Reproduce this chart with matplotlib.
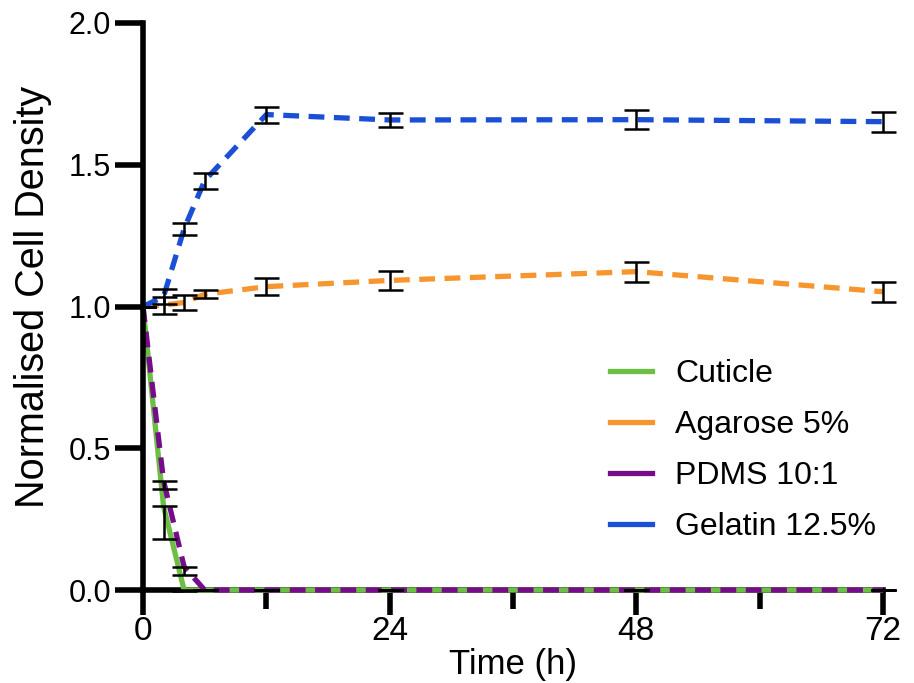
import matplotlib
matplotlib.use("Agg")
import matplotlib.pyplot as plt
from matplotlib.lines import Line2D
from matplotlib.ticker import FixedLocator
import numpy as np

plt.rcParams['font.family'] = ['Liberation Sans', 'DejaVu Sans']

time_h = [0, 2, 4, 6, 12, 24, 48, 72]

cuticle = [1.0, 0.295, 0.0, 0.0, 0.0, 0.0, 0.0, 0.0]
cuticle_err_lo = [0.0, 0.115, 0.005, 0.0, 0.0, 0.0, 0.0, 0.0]
cuticle_err_hi = [0.0, 0.0, 0.0, 0.0, 0.0, 0.0, 0.0, 0.0]

agarose = [1.0, 1.005, 1.014, 1.043, 1.070, 1.092, 1.123, 1.052]
agarose_err = [0.0, 0.03, 0.026, 0.014, 0.03, 0.034, 0.035, 0.036]

pdms = [1.0, 0.385, 0.082, 0.0, 0.0, 0.0, 0.0, 0.0]
pdms_err_lo = [0.0, 0.03, 0.03, 0.0, 0.0, 0.0, 0.0, 0.0]
pdms_err_hi = [0.0, 0.0, 0.0, 0.0, 0.0, 0.0, 0.0, 0.0]

gelatin = [1.0, 1.035, 1.274, 1.444, 1.677, 1.658, 1.659, 1.652]
gelatin_err = [0.0, 0.025, 0.022, 0.028, 0.028, 0.026, 0.034, 0.035]

labels = ["Cuticle", "Agarose 5%", "PDMS 10:1", "Gelatin 12.5%"]
colors = ["#6CBE45", "#F7962F", "#760C8A", "#1A4FD6"]

x_major = [0, 24, 48, 72]
x_minor = [12, 36, 60]
y_ticks = [0.0, 0.5, 1.0, 1.5, 2.0]

fig = plt.figure(figsize=(9.14, 6.83), dpi=100)
ax = fig.add_axes([143/914, 1 - 590/683, (883 - 143)/914, (590 - 23)/683])

lw = 3.8
dash = (3.0, 1.8)
series = [
    (cuticle, (cuticle_err_lo, cuticle_err_hi), '-', colors[0]),
    (agarose, (agarose_err, agarose_err), '--', colors[1]),
    (pdms, (pdms_err_lo, pdms_err_hi), '--', colors[2]),
    (gelatin, (gelatin_err, gelatin_err), '--', colors[3]),
]
for i, (vals, (lo, hi), ls, c) in enumerate(series):
    line, = ax.plot(time_h, vals, ls, color=c, lw=lw, zorder=3 + i,
                    solid_capstyle='butt', dash_capstyle='butt', clip_on=False)
    if ls == '--':
        line.set_dashes(dash)
for i, (vals, (lo, hi), ls, c) in enumerate(series):
    eb = ax.errorbar(time_h, vals, yerr=[lo, hi], fmt='none', ecolor='black',
                     elinewidth=1.8, capsize=9, capthick=1.8, zorder=10)
    for art in eb.get_children():
        art.set_clip_on(False)

ax.set_xlim(0, 72)
ax.set_ylim(0, 2.0)
ax.xaxis.set_major_locator(FixedLocator(x_major))
ax.xaxis.set_minor_locator(FixedLocator(x_minor))
ax.yaxis.set_major_locator(FixedLocator(y_ticks))
ax.set_xticklabels([str(v) for v in x_major])
ax.set_yticklabels([f"{v:.1f}" for v in y_ticks])

for s in ['top', 'right']:
    ax.spines[s].set_visible(False)
for s in ['left', 'bottom']:
    ax.spines[s].set_linewidth(4)
ax.spines['bottom'].set_zorder(1)
ax.spines['left'].set_zorder(20)

ax.tick_params(axis='x', which='major', direction='out', length=18, width=4,
               labelsize=24, pad=1)
ax.tick_params(axis='x', which='minor', direction='out', length=14, width=4)
ax.tick_params(axis='y', which='major', direction='out', length=20, width=4,
               labelsize=22, pad=3)

ax.set_xlabel("Time (h)", fontsize=25)
ax.xaxis.set_label_coords(0.5, -0.102)
ax.set_ylabel("Normalised Cell Density", fontsize=28.5)
ax.yaxis.set_label_coords(-0.123, 0.517)

handles = [Line2D([0], [0], color=c, lw=lw) for c in colors]
leg = ax.legend(handles, labels, loc='upper left',
                bbox_to_anchor=(610/914, 1 - 359/683), bbox_transform=fig.transFigure,
                frameon=False, fontsize=23, handlelength=1.33, handletextpad=0.72,
                labelspacing=0.66, borderpad=0, borderaxespad=0)

fig.savefig("out.png", dpi=100)
